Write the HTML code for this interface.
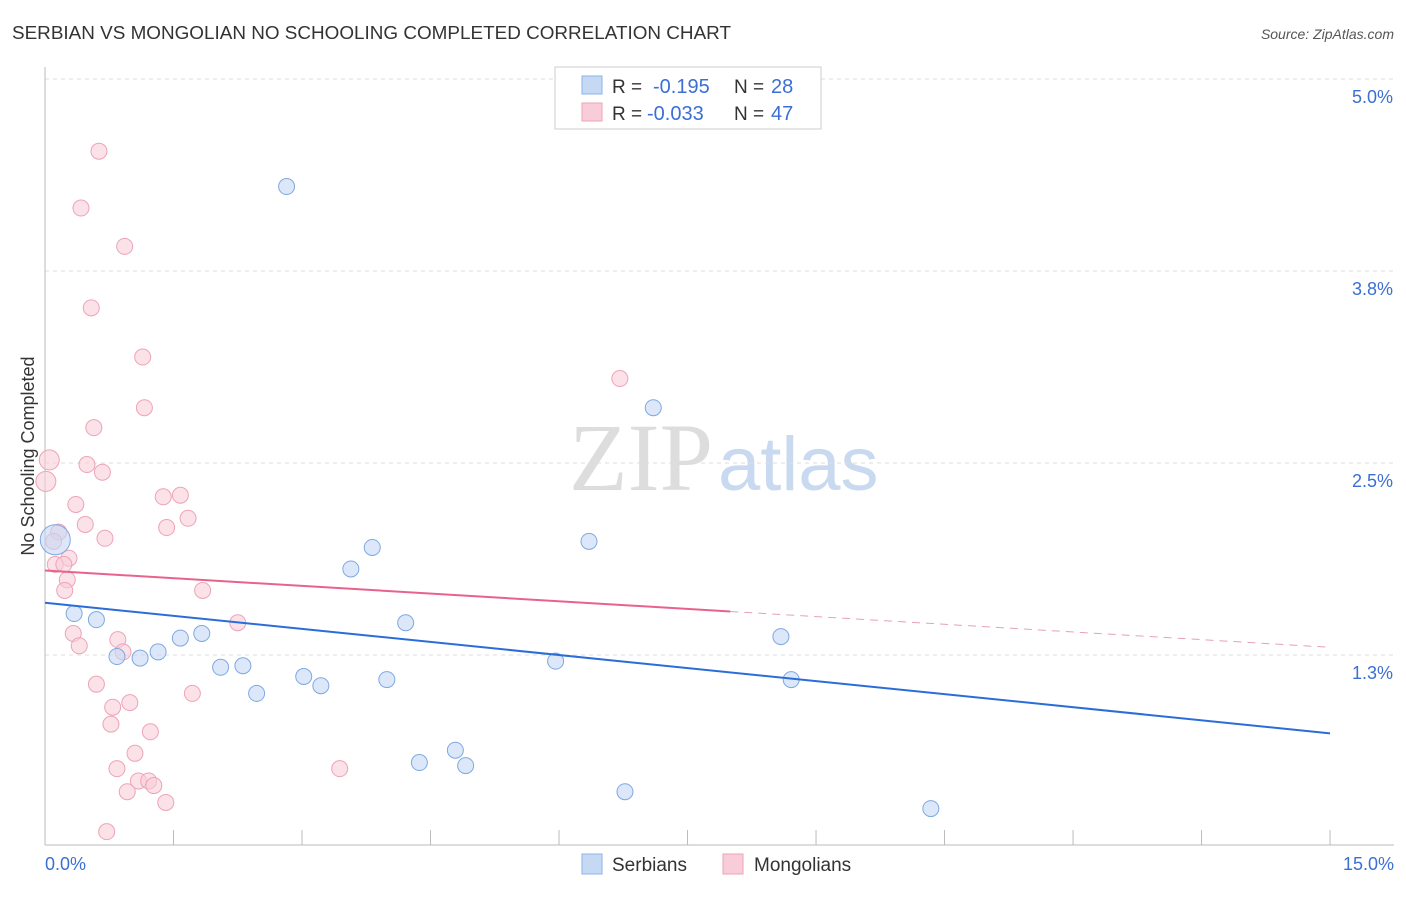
<!DOCTYPE html>
<html><head><meta charset="utf-8"><style>
body{margin:0;background:#fff;font-family:"Liberation Sans",sans-serif;}
svg text{font-family:"Liberation Sans",sans-serif;}
</style></head><body>
<svg id="chart" width="1406" height="892">
<text x="12" y="39" font-size="18" fill="#333" textLength="719" lengthAdjust="spacingAndGlyphs">SERBIAN VS MONGOLIAN NO SCHOOLING COMPLETED CORRELATION CHART</text>
<text x="1394" y="39" font-size="14" fill="#555" font-style="italic" text-anchor="end">Source: ZipAtlas.com</text>
<text x="713" y="490" font-size="96" fill="#ddd" text-anchor="end" font-family="Liberation Serif" style="font-family:'Liberation Serif',serif">ZIP</text>
<text x="718" y="490" font-size="76" fill="#c8d9f0">atlas</text>
<g id="grid"></g><g id="axes"></g><g id="marks"></g>
<text x="34" y="456" font-size="18" fill="#333" text-anchor="middle" transform="rotate(-90 34 456)">No Schooling Completed</text>
<g>
<rect x="555" y="67" width="266" height="62" fill="#fff" stroke="#ccc"/>
<rect x="582" y="76" width="20" height="18" fill="#c5d9f5" stroke="#8db3e8"/>
<text x="612" y="93" font-size="19" fill="#333">R =</text><text x="653" y="93" font-size="20" fill="#3b6fd4">-0.195</text>
<text x="734" y="93" font-size="19" fill="#333">N =</text><text x="771" y="93" font-size="20" fill="#3b6fd4">28</text>
<rect x="582" y="103" width="20" height="18" fill="#f8cdd9" stroke="#eea3b8"/>
<text x="612" y="120" font-size="19" fill="#333">R =</text><text x="647" y="120" font-size="20" fill="#3b6fd4">-0.033</text>
<text x="734" y="120" font-size="19" fill="#333">N =</text><text x="771" y="120" font-size="20" fill="#3b6fd4">47</text>
</g>
<g>
<rect x="582" y="854" width="20" height="20" fill="#c5d9f5" stroke="#8db3e8"/>
<text x="612" y="871" font-size="19" fill="#333">Serbians</text>
<rect x="723" y="854" width="20" height="20" fill="#f8cdd9" stroke="#eea3b8"/>
<text x="754" y="871" font-size="19" fill="#333">Mongolians</text>
</g>
</svg>
<script>
const xTicksLabels=["0.0%","15.0%"];
const yTickValues=[5.0,3.75,2.5,1.25];
const yTickLabels=["5.0%","3.8%","2.5%","1.3%"];
const serbX=[2.82,7.10,6.35,3.82,3.57,0.12,0.34,0.60,4.21,8.59,1.83,1.58,1.32,0.84,1.11,5.96,2.05,2.31,3.02,3.22,3.99,8.71,2.47,4.79,4.37,4.91,6.77,10.34];
const serbY=[4.30,2.86,1.99,1.95,1.81,2.00,1.52,1.48,1.46,1.37,1.39,1.36,1.27,1.24,1.23,1.21,1.17,1.18,1.11,1.05,1.09,1.09,1.00,0.63,0.55,0.53,0.36,0.25];
const mongX=[0.63,0.42,0.93,0.54,1.14,6.71,1.16,0.57,0.05,0.01,0.49,0.67,0.36,1.38,1.58,0.47,0.16,1.67,1.42,0.70,0.28,0.12,0.22,0.26,0.23,1.84,2.25,0.33,0.85,0.40,0.91,0.60,1.72,0.99,0.79,0.77,1.23,1.05,0.84,3.44,1.09,1.21,0.96,1.27,1.41,0.72,0.10];
const mongY=[4.53,4.16,3.91,3.51,3.19,3.05,2.86,2.73,2.52,2.38,2.49,2.44,2.23,2.28,2.29,2.10,2.05,2.14,2.08,2.01,1.88,1.84,1.84,1.74,1.67,1.67,1.46,1.39,1.35,1.31,1.27,1.06,1.00,0.94,0.91,0.80,0.75,0.61,0.51,0.51,0.43,0.43,0.36,0.40,0.29,0.10,1.99];
const serbTrend=[1.59,0.74];
const mongTrend=[1.80,1.30];
const NS="http://www.w3.org/2000/svg";
const X=v=>45+v*85.67, Y=v=>79+(5-v)*153.6;
function mk(t,a,p){const e=document.createElementNS(NS,t);for(const k in a)e.setAttribute(k,a[k]);p.appendChild(e);return e;}
const grid=document.getElementById('grid'),axes=document.getElementById('axes'),marks=document.getElementById('marks');
yTickValues.forEach((v,i)=>{
 const l=mk('line',{x1:45,x2:1394,y1:Y(v),y2:Y(v),stroke:'#ddd','stroke-dasharray':'4,4'},grid);
 
 
 const t=mk('text',{x:1393,y:Y(v)+24,'font-size':18,fill:'#3b6fd4','text-anchor':'end'},axes);t.textContent=yTickLabels[i];
 
 
});
const ax=mk('line',{x1:45,x2:1394,y1:845,y2:845,stroke:'#bbb'},axes);


const ay=mk('line',{x1:45,x2:45,y1:67,y2:845,stroke:'#bbb'},axes);


for(let i=0;i<=10;i++){const t=mk('line',{x1:X(i*1.5),x2:X(i*1.5),y1:830,y2:845,stroke:'#bbb'},axes);
 
 }
const xl0=mk('text',{x:45,y:870,'font-size':18,fill:'#3b6fd4'},axes);xl0.textContent=xTicksLabels[0];


const xl1=mk('text',{x:1394,y:870,'font-size':18,fill:'#3b6fd4','text-anchor':'end'},axes);xl1.textContent=xTicksLabels[1];


mongX.forEach((x,i)=>{const c=mk('circle',{cx:X(x),cy:Y(mongY[i]),r:(i===9||i===8)?10:8,fill:'#f8cdd9','fill-opacity':0.6,stroke:'#eea3b8'},marks);
 
 });
serbX.forEach((x,i)=>{const c=mk('circle',{cx:X(x),cy:Y(serbY[i]),r:i===5?15:8,fill:'#c5d9f5','fill-opacity':0.6,stroke:'#7fa8e0'},marks);
 
 });
const sl=mk('line',{x1:X(0),y1:Y(serbTrend[0]),x2:X(15),y2:Y(serbTrend[1]),stroke:'#2a6dd9','stroke-width':2},marks);


const mAt=x=>mongTrend[0]+(mongTrend[1]-mongTrend[0])*x/15;
const ml=mk('line',{x1:X(0),y1:Y(mAt(0)),x2:X(8),y2:Y(mAt(8)),stroke:'#e8638b','stroke-width':2},marks);


const md=mk('line',{x1:X(8),y1:Y(mAt(8)),x2:X(15),y2:Y(mAt(15)),stroke:'#e8a0b5','stroke-width':1,'stroke-dasharray':'8,6'},marks);


</script>
</body></html>
